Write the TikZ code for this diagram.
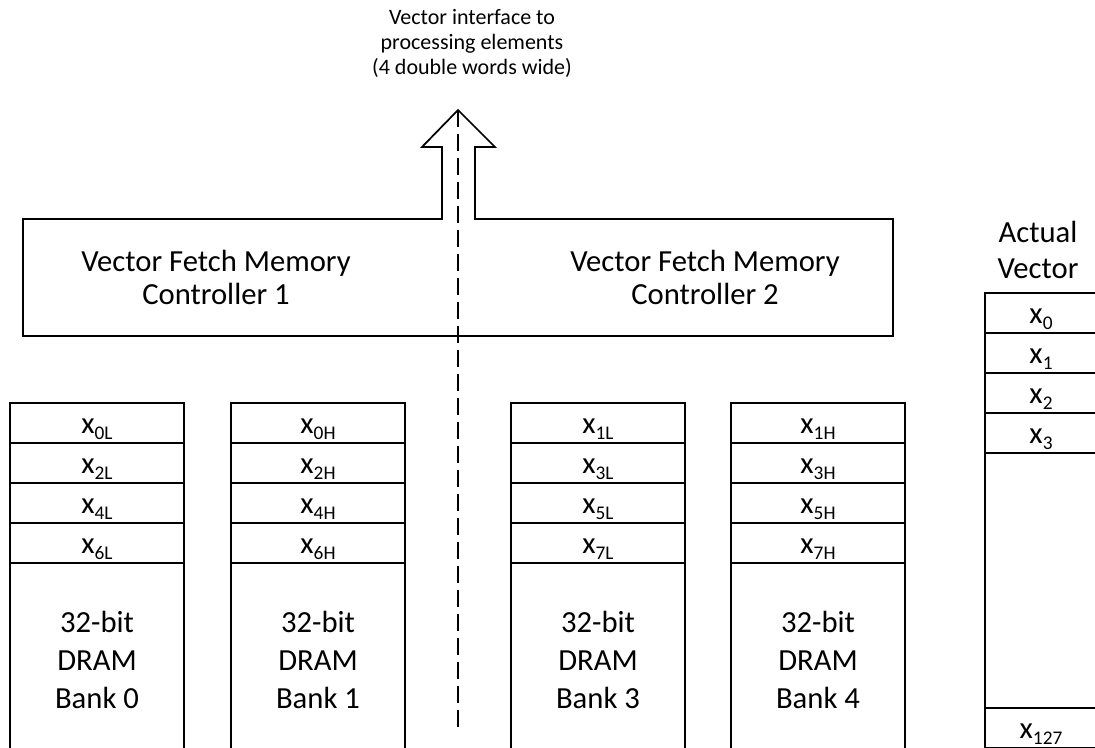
\documentclass[tikz,border=0pt]{standalone}
\usepackage{fontspec}
\setmainfont{Carlito}
\usepackage{tikz}
\usetikzlibrary{positioning}

% x with a lowered index, as in the memory cells
\newcommand\cellx[1]{x\raisebox{-4.5pt}{\fontsize{14.5}{14.5}\selectfont #1}}

\begin{document}
\begin{tikzpicture}[
    x=0.75pt, y=-0.75pt,
    box/.style={draw, line width=1.3pt},
    cell/.style={draw, line width=1.3pt, minimum width=130.5pt, minimum height=30pt, inner sep=0pt, outer sep=0pt, text height=17pt, text depth=2pt, font=\fontsize{23}{28}\selectfont},
    vcell/.style={cell, minimum width=84pt},
    banktext/.style={align=center, font=\fontsize{23}{28.5}\selectfont},
    ctrltext/.style={align=center, font=\fontsize{23}{24.75}\selectfont},
    headtext/.style={align=center, font=\fontsize{23}{27}\selectfont},
    toptext/.style={align=center, font=\fontsize{16.5}{18.75}\selectfont},
    dashline/.style={line width=1.3pt, dash pattern=on 13pt off 5pt}
]
\useasboundingbox (0,0) rectangle (1095,747);
\clip (0,0) rectangle (1095,747);

% Interface to the processing elements
\node[toptext] (iface) at (472,43) {Vector interface to\\processing elements\\(4 double words wide)};
\coordinate (tip) at (458,110);
\coordinate (dashend) at (458,733);

% Controllers, with the wide arrow on top
\draw[box] (tip) -- (495,147) -- (475,147) -- (475,219) -- (893,219) -- (893,336)
    -- (23,336) -- (23,219) -- (442,219) -- (442,147) -- (422,147) -- cycle;
\node[ctrltext] (vfm1) at (216,277) {Vector Fetch Memory\\Controller 1};
\node[ctrltext] (vfm2) at (705,277) {Vector Fetch Memory\\Controller 2};
\draw[dashline] (tip) -- (dashend);

% DRAM banks
\foreach \bx/\nm/\a/\b/\c/\d/\num in {10/bk0/0L/2L/4L/6L/0, 231/bk1/0H/2H/4H/6H/1, 511/bk3/1L/3L/5L/7L/3, 731/bk4/1H/3H/5H/7H/4} {
    \node[cell, anchor=north west] (\nm a) at (\bx,403) {\cellx{\a}};
    \node[cell, below=0pt of \nm a] (\nm b) {\cellx{\b}};
    \node[cell, below=0pt of \nm b] (\nm c) {\cellx{\c}};
    \node[cell, below=0pt of \nm c] (\nm d) {\cellx{\d}};
    \draw[box] (\nm d.south west) -- ++(0,200) (\nm d.south east) -- ++(0,200);
    \node[banktext] (\nm t) at (\bx+87,660) {32-bit\\DRAM\\Bank \num};
}

% Actual vector
\node[headtext] (actual) at (1038,250) {Actual\\Vector};
\node[vcell, anchor=north west] (v0) at (985,293) {\cellx{0}};
\node[vcell, below=0pt of v0] (v1) {\cellx{1}};
\node[vcell, below=0pt of v1] (v2) {\cellx{2}};
\node[vcell, below=0pt of v2] (v3) {\cellx{3}};
\node[vcell, anchor=north west] (v127) at (985,708) {\cellx{127}};
\draw[box] (v3.south west) -- (v127.north west) (v3.south east) -- (v127.north east);
\end{tikzpicture}
\end{document}
